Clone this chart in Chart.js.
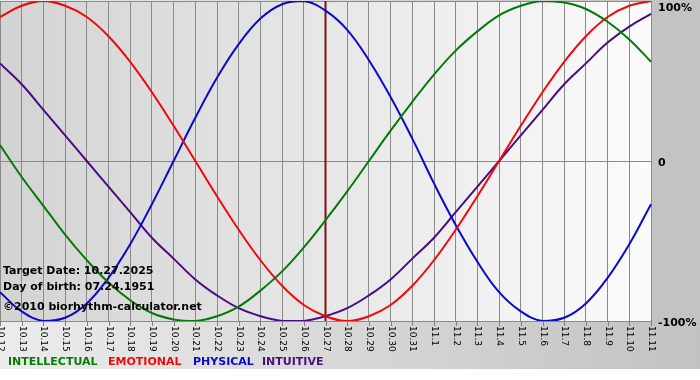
<!DOCTYPE html>
<html>
<head>
<meta charset="utf-8">
<script src="https://cdn.jsdelivr.net/npm/chart.js@4/dist/chart.umd.min.js"></script>
<style>
  html, body { margin: 0; padding: 0; background: #ffffff; }
  #chart { display: block; }
</style>
</head>
<body>
<canvas id="chart" width="700" height="380"></canvas>
<script>
const days = [
  "10.12", "10.13", "10.14", "10.15", "10.16", "10.17", "10.18", "10.19", "10.20", "10.21",
  "10.22", "10.23", "10.24", "10.25", "10.26", "10.27", "10.28", "10.29", "10.30", "10.31",
  "11.1", "11.2", "11.3", "11.4", "11.5", "11.6", "11.7", "11.8", "11.9", "11.10", "11.11",
];
const intellectual = [
  0.10, -0.10, -0.28, -0.46, -0.62, -0.76, -0.87, -0.95, -0.99, -1.00,
  -0.97, -0.91, -0.81, -0.69, -0.54, -0.37, -0.19, 0.00, 0.19, 0.37,
  0.54, 0.69, 0.81, 0.91, 0.97, 1.00, 0.99, 0.95, 0.87, 0.76, 0.62,
];
const emotional = [
  0.90, 0.97, 1.00, 0.97, 0.90, 0.78, 0.62, 0.43, 0.22, 0.00,
  -0.22, -0.43, -0.62, -0.78, -0.90, -0.97, -1.00, -0.97, -0.90, -0.78,
  -0.62, -0.43, -0.22, 0.00, 0.22, 0.43, 0.62, 0.78, 0.90, 0.97, 1.00,
];
const physical = [
  -0.82, -0.94, -1.00, -0.98, -0.89, -0.73, -0.52, -0.27, 0.00, 0.27,
  0.52, 0.73, 0.89, 0.98, 1.00, 0.94, 0.82, 0.63, 0.40, 0.14,
  -0.14, -0.40, -0.63, -0.82, -0.94, -1.00, -0.98, -0.89, -0.73, -0.52, -0.27,
];
const intuitive = [
  0.61, 0.48, 0.32, 0.16, 0.00, -0.16, -0.32, -0.48, -0.61, -0.74,
  -0.84, -0.92, -0.97, -1.00, -1.00, -0.97, -0.92, -0.84, -0.74, -0.61,
  -0.48, -0.32, -0.16, 0.00, 0.16, 0.32, 0.48, 0.61, 0.74, 0.84, 0.92,
];
const yTicks = [1, 0, -1];
const yTickLabels = ["100%", "0", "-100%"];
const targetDay = "10.27";
const infoLines = ["Target Date: 10.27.2025", "Day of birth: 07.24.1951", "\u00a92010 biorhythm-calculator.net"];
const legendNames = ["INTELLECTUAL", "EMOTIONAL", "PHYSICAL", "INTUITIVE"];

const colors = {
  intellectual: "#067a06",
  emotional: "#ee0a0a",
  physical: "#0a0acc",
  intuitive: "#4a0c84",
};
const legendColors = [colors.intellectual, colors.emotional, colors.physical, colors.intuitive];
const boldFont = "bold 11px 'DejaVu Sans', Verdana, sans-serif";

// backgrounds, target line and all the hand drawn text
const biorhythmDecor = {
  id: "biorhythmDecor",
  beforeDraw(chart) {
    const ctx = chart.ctx;
    const area = chart.chartArea;
    ctx.save();
    ctx.fillStyle = "#ffffff";
    ctx.fillRect(0, 0, chart.width, chart.height);

    var outer = ctx.createLinearGradient(0, 0, chart.width, 0);
    outer.addColorStop(0, "#ececec");
    outer.addColorStop(1, "#c2c2c2");
    ctx.fillStyle = outer;
    ctx.fillRect(0, 0, chart.width, 369);
    ctx.fillStyle = "#c3c3c3";
    ctx.fillRect(area.right, 0, chart.width - area.right, area.bottom + 1);

    var inner = ctx.createLinearGradient(area.left, 0, area.right, 0);
    inner.addColorStop(0, "#d3d3d3");
    inner.addColorStop(1, "#fbfbfb");
    ctx.fillStyle = inner;
    ctx.fillRect(area.left, area.top, area.right - area.left, area.bottom - area.top);
    ctx.restore();
  },
  beforeDatasetsDraw(chart) {
    const ctx = chart.ctx;
    const area = chart.chartArea;
    const x = chart.scales.x.getPixelForValue(days.indexOf(targetDay));
    ctx.save();
    ctx.strokeStyle = "#7a1414";
    ctx.lineWidth = 2;
    ctx.beginPath();
    ctx.moveTo(x, area.top);
    ctx.lineTo(x, area.bottom);
    ctx.stroke();
    ctx.restore();
  },
  afterDraw(chart) {
    const ctx = chart.ctx;
    const area = chart.chartArea;
    const xScale = chart.scales.x;
    const yScale = chart.scales.y;
    ctx.save();

    // tick marks and rotated day labels
    ctx.strokeStyle = "#808080";
    ctx.lineWidth = 1;
    ctx.fillStyle = "#000000";
    ctx.font = "9px 'DejaVu Sans', Verdana, sans-serif";
    ctx.textAlign = "left";
    ctx.textBaseline = "middle";
    days.forEach(function (day, i) {
      const x = Math.round(xScale.getPixelForValue(i)) + 0.5;
      ctx.beginPath();
      ctx.moveTo(x, area.bottom);
      ctx.lineTo(x, area.bottom + 5);
      ctx.stroke();
      ctx.save();
      ctx.translate(x, area.bottom + 5);
      ctx.rotate(Math.PI / 2);
      ctx.fillText(day, 0, 0);
      ctx.restore();
    });

    // right hand percent labels
    ctx.font = boldFont;
    yTicks.forEach(function (v, i) {
      var y = yScale.getPixelForValue(v) + 2;
      if (y < 8) y = 8;
      ctx.fillText(yTickLabels[i], area.right + 7, y);
    });

    // info block
    const infoY = [271, 287, 307];
    infoLines.forEach(function (line, i) {
      ctx.fillText(line, 3, infoY[i]);
    });

    // legend
    const legendX = [8, 108, 193, 262];
    legendNames.forEach(function (name, i) {
      ctx.fillStyle = legendColors[i];
      ctx.fillText(name, legendX[i], 362);
    });
    ctx.restore();
  },
};

const ctx = document.getElementById("chart").getContext("2d");
const lineStyle = { borderWidth: 2, pointRadius: 0, tension: 0.4, fill: false };

new Chart(ctx, {
  type: "line",
  data: {
    labels: days,
    datasets: [
      Object.assign({ label: "INTELLECTUAL", data: intellectual, borderColor: colors.intellectual }, lineStyle),
      Object.assign({ label: "EMOTIONAL", data: emotional, borderColor: colors.emotional }, lineStyle),
      Object.assign({ label: "PHYSICAL", data: physical, borderColor: colors.physical }, lineStyle),
      Object.assign({ label: "INTUITIVE", data: intuitive, borderColor: colors.intuitive }, lineStyle),
    ],
  },
  options: {
    responsive: false,
    animation: false,
    layout: { padding: { left: 0, right: 49, top: 1, bottom: 59 } },
    plugins: {
      legend: { display: false },
      tooltip: { enabled: false },
    },
    scales: {
      x: {
        offset: false,
        border: { display: false },
        grid: { color: "#8a8a8a", drawTicks: false },
        ticks: { display: false },
      },
      y: {
        min: -1,
        max: 1,
        border: { display: false },
        grid: { color: "#8a8a8a", drawTicks: false },
        ticks: { display: false, stepSize: 1 },
      },
    },
  },
  plugins: [biorhythmDecor],
});
</script>
</body>
</html>
